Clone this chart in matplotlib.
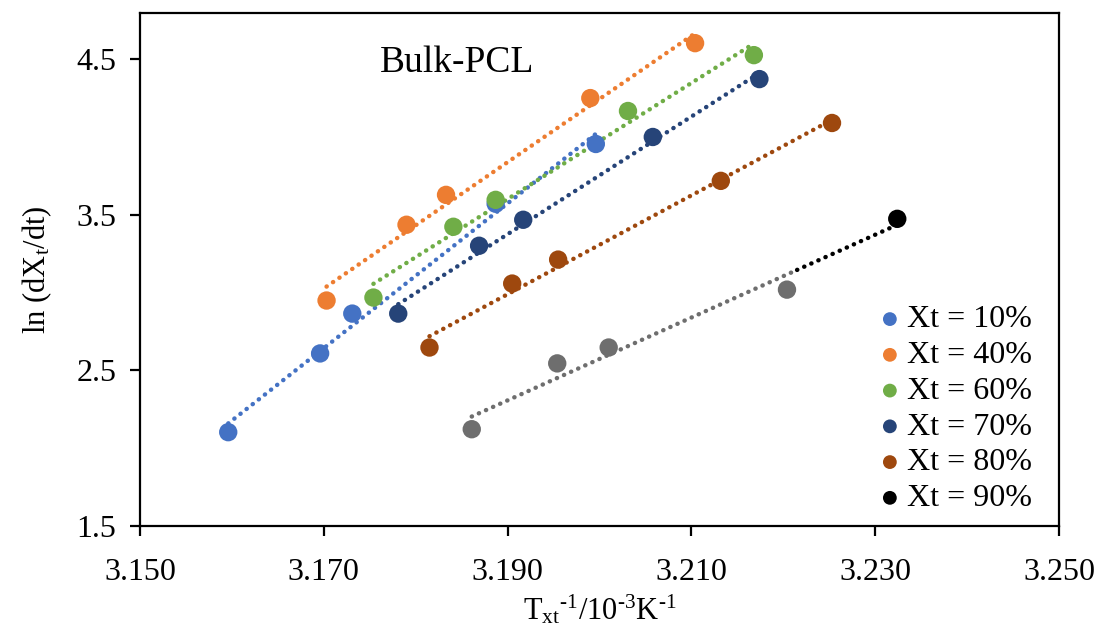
import numpy as np
import matplotlib
matplotlib.use("Agg")
import matplotlib.pyplot as plt

plt.rcParams['font.family'] = ['Liberation Serif', 'DejaVu Serif']
plt.rcParams['mathtext.fontset'] = 'custom'
plt.rcParams['mathtext.rm'] = 'Liberation Serif'
plt.rcParams['mathtext.it'] = 'Liberation Serif'

# data (x = 1/T in 10^-3 K^-1, y = ln(dXt/dt))
labels = ['Xt = 10%', 'Xt = 40%', 'Xt = 60%', 'Xt = 70%', 'Xt = 80%', 'Xt = 90%']
colors = ['#4472C4', '#ED7D31', '#70AD47', '#264478', '#9E480E', '#000000']

x10 = [3.1596, 3.1696, 3.1731, 3.1887, 3.1996]
y10 = [2.103, 2.609, 2.865, 3.571, 3.955]
x40 = [3.1703, 3.1790, 3.1833, 3.1990, 3.2104]
y40 = [2.949, 3.436, 3.628, 4.250, 4.603]
x60 = [3.1754, 3.1841, 3.1887, 3.2031, 3.2168]
y60 = [2.968, 3.423, 3.596, 4.167, 4.526]
x70 = [3.1781, 3.1869, 3.1917, 3.2058, 3.2174]
y70 = [2.865, 3.301, 3.468, 4.000, 4.372]
x80 = [3.1815, 3.1905, 3.1955, 3.2132, 3.2253]
y80 = [2.647, 3.058, 3.212, 3.718, 4.090]
x90 = [3.1861, 3.1954, 3.2010, 3.2204, 3.2324]
y90 = [2.122, 2.545, 2.647, 3.019, 3.474]

xs = [x10, x40, x60, x70, x80, x90]
ys = [y10, y40, y60, y70, y80, y90]

gray = '#6E6E6E'
split90 = 3.2215  # where the 90% trendline turns from gray to black

fig = plt.figure(figsize=(10.99, 6.25), dpi=100)
ax = fig.add_axes([140 / 1099, 1 - 526 / 625, (1059 - 140) / 1099, (526 - 12.5) / 625])

dots = (0, (0.05, 1.7))
lw = 3.2
ms = 175
for i in range(6):
    x = np.array(xs[i])
    y = np.array(ys[i])
    k, b = np.polyfit(x, y, 1)
    if i < 5:
        xl = np.array([x.min(), x.max()])
        ax.plot(xl, k * xl + b, color=colors[i], lw=lw, ls=dots,
                dash_capstyle='round', zorder=2)
        ax.scatter(x, y, s=ms, color=colors[i], zorder=3, label=labels[i],
                   edgecolors='none')
    else:
        xa = np.array([x.min(), split90])
        xb = np.array([split90, x.max()])
        ax.plot(xa, k * xa + b, color=gray, lw=lw, ls=dots,
                dash_capstyle='round', zorder=2)
        ax.plot(xb, k * xb + b, color='black', lw=lw, ls=dots,
                dash_capstyle='round', zorder=2)
        ax.scatter(x[:-1], y[:-1], s=ms, color=gray, zorder=3, edgecolors='none')
        ax.scatter(x[-1:], y[-1:], s=ms, color='black', zorder=3,
                   label=labels[i], edgecolors='none')

ax.set_xlim(3.150, 3.250)
ax.set_ylim(1.5, 4.8)
ax.set_xticks([3.150, 3.170, 3.190, 3.210, 3.230, 3.250])
ax.set_xticklabels(['3.150', '3.170', '3.190', '3.210', '3.230', '3.250'])
ax.set_yticks([1.5, 2.5, 3.5, 4.5])
ax.set_yticklabels(['1.5', '2.5', '3.5', '4.5'])

for s in ax.spines.values():
    s.set_linewidth(1.6)
ax.tick_params(axis='both', direction='out', length=7, width=1.6,
               labelsize=23, pad=10)
ax.tick_params(axis='x', pad=16)

ax.set_xlabel('T$_{\\mathrm{xt}}$$^{\\mathrm{\u2010}\\mathrm{1}}$/10$^{\\mathrm{\u20103}}$K$^{\\mathrm{\u20101}}$',
              fontsize=22, labelpad=4)
ax.set_ylabel(r'ln (dX$_{\mathrm{t}}$/dt)', fontsize=22, labelpad=16)

ax.text(0.261, 0.884, 'Bulk-PCL', transform=ax.transAxes, fontsize=27,
        va='baseline')

leg = ax.legend(loc='lower right', frameon=False, fontsize=23,
                handletextpad=0.05, labelspacing=0.2, handlelength=1.0,
                borderaxespad=0.0, markerscale=0.75,
                bbox_to_anchor=(0.985, 0.0))

fig.savefig('out.png', dpi=100)
